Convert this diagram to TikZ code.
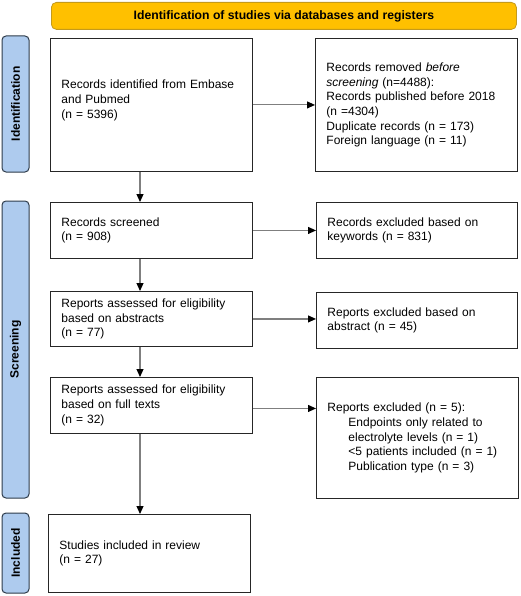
\documentclass[tikz,border=0pt]{standalone}
\usepackage{fontspec}
\setmainfont{Liberation Sans}
\usetikzlibrary{arrows.meta,calc}
\definecolor{bannerfill}{HTML}{FFC000}
\definecolor{bannerdraw}{HTML}{C49A1C}
\definecolor{sidefill}{HTML}{AECBEE}
\definecolor{sidedraw}{HTML}{2E3B4A}
\definecolor{arrgray}{HTML}{7F7F7F}
\tikzset{
  box/.style={draw=black!85, line width=0.9pt, anchor=north west, align=left,
    inner xsep=11pt, inner ysep=0pt, font=\fontsize{12}{14.7}\selectfont},
  side/.style={draw=sidedraw, fill=sidefill, line width=1pt, rounded corners=4pt,
    rotate=90, minimum height=27pt, inner sep=0pt, font=\fontsize{12}{14}\selectfont\bfseries},
  arr/.style={draw=arrgray, line width=1.1pt, -{Triangle[length=8pt,width=7pt,color=black]}},
}
\begin{document}
\begin{tikzpicture}[x=1pt,y=-1pt]
\useasboundingbox (0,0) rectangle (520,596);
% banner
\node[draw=bannerdraw, fill=bannerfill, line width=0.8pt, rounded corners=5pt,
  minimum width=465pt, minimum height=27pt, anchor=north west, inner sep=0pt,
  font=\fontsize{12.2}{14}\selectfont\bfseries] (banner) at (51,2)
  {Identification of studies via databases and registers};
% side labels
\node[side, minimum width=136pt] (sid) at (15.5,104) {Identification};
\node[side, minimum width=297pt] (sscr) at (15.5,349.5) {Screening};
\node[side, minimum width=80pt] (sinc) at (15.5,553) {Included};
% boxes
\node[box, text width=180pt, minimum height=133pt] (b1) at (50,38)
  {Records identified from Embase\\and Pubmed\\(n = 5396)\\[-3pt]\mbox{}};
\node[box, text width=180pt, minimum height=133pt] (b2) at (315,38)
  {Records removed \textit{before}\\\textit{screening} (n=4488):\\Records published before 2018\\(n =4304)\\Duplicate records (n = 173)\\Foreign language (n = 11)};
\node[box, text width=180pt, minimum height=56pt] (b3) at (50,202)
  {Records screened\\(n = 908)};
\node[box, text width=179pt, minimum height=56pt] (b4) at (316,202)
  {Records excluded based on\\keywords (n = 831)};
\node[box, text width=180pt, minimum height=55pt] (b5) at (50,291)
  {Reports assessed for eligibility\\based on abstracts\\(n = 77)};
\node[box, text width=179pt, minimum height=56pt] (b6) at (316,292)
  {Reports excluded based on\\abstract (n = 45)};
\node[box, text width=180pt, minimum height=56pt] (b7) at (50,377)
  {Reports assessed for eligibility\\based on full texts\\(n = 32)};
\node[box, text width=180pt, minimum height=121pt] (b8) at (316,377)
  {Reports excluded (n = 5):\\\hspace*{21pt}Endpoints only related to\\\hspace*{21pt}electrolyte levels (n = 1)\\\hspace*{21pt}<5 patients included (n = 1)\\\hspace*{21pt}Publication type (n = 3)};
\node[box, text width=180pt, minimum height=78pt] (b9) at (48,514)
  {Studies included in review\\(n = 27)};
% connectors
\coordinate (ax) at (140,0);
\draw[arr] (b1.east) -- (b1.east -| b2.west);
\draw[arr] (b3.east) -- (b3.east -| b4.west);
\draw[arr] (b5.east) -- (b5.east -| b6.west);
\draw[arr] ($(b7.east)+(0,3)$) -- ($(b7.east -| b8.west)+(0,3)$);
\draw[arr] (b1.south -| ax) -- (b3.north -| ax);
\draw[arr] (b3.south -| ax) -- (b5.north -| ax);
\draw[arr] (b5.south -| ax) -- (b7.north -| ax);
\draw[arr] (b7.south -| ax) -- (b9.north -| ax);
\end{tikzpicture}
\end{document}
